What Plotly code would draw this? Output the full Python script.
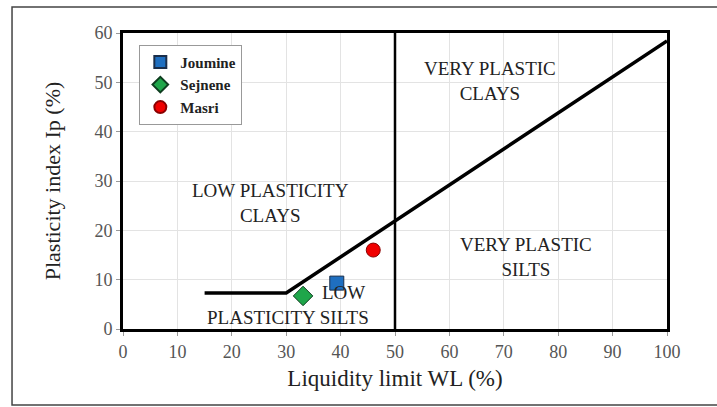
import plotly.graph_objects as go

# Data
series_names = ["Joumine", "Sejnene", "Masri"]
series_wl = [39.3, 33.1, 46.0]
series_ip = [9.3, 6.7, 16.0]
series_symbols = ["square", "diamond", "circle"]
series_colors = ["#1F6FC0", "#1FA64A", "#F00000"]
series_edges = ["#1A2E4A", "#0E3D1F", "#8A0000"]

aline_wl = [15, 30, 100]
aline_ip = [7.3, 7.3, 58.4]
vline_wl = [50, 50]
vline_ip = [0, 60]

x_ticks = [0, 10, 20, 30, 40, 50, 60, 70, 80, 90, 100]
y_ticks = [0, 10, 20, 30, 40, 50, 60]

zone_labels = ["LOW PLASTICITY<br>CLAYS", "VERY PLASTIC<br>CLAYS", "VERY PLASTIC<br>SILTS", "LOW", "PLASTICITY SILTS"]
zone_x = [27.2, 67.5, 74.0, 40.5, 30.3]
zone_y = [25.5, 50.3, 14.6, 7.3, 2.3]

SERIF = "Liberation Serif, Times New Roman, serif"

fig = go.Figure()

fig.add_trace(go.Scatter(x=vline_wl, y=vline_ip, mode="lines",
                         line=dict(color="black", width=2.5),
                         showlegend=False, hoverinfo="skip"))
fig.add_trace(go.Scatter(x=aline_wl, y=aline_ip, mode="lines",
                         line=dict(color="black", width=3.5),
                         showlegend=False, hoverinfo="skip"))

for n, xv, yv, s, c, e in zip(series_names, series_wl, series_ip, series_symbols, series_colors, series_edges):
    fig.add_trace(go.Scatter(x=[xv], y=[yv], mode="markers", name=n,
                             marker=dict(symbol=s, size=14 if s != "diamond" else 15,
                                         color=c, line=dict(color=e, width=1))))

for i, (t, xv, yv) in enumerate(zip(zone_labels, zone_x, zone_y)):
    fig.add_annotation(x=xv, y=yv, xref="x", yref="y", text=t, showarrow=False,
                       font=dict(family=SERIF, size=19, color="#222222"),
                       align="center")

# outer frame: left, top and bottom edges only (right edge is cut off in the reference)
fig.add_shape(type="path", xref="paper", yref="paper",
              path="M 1.1,-0.257 L -0.204,-0.257 L -0.204,1.088 L 1.1,1.088",
              line=dict(color="#444444", width=1.5), fillcolor="rgba(0,0,0,0)", layer="below")

fig.update_layout(
    width=717, height=407,
    margin=dict(l=123, r=50, t=33, b=78),
    paper_bgcolor="white", plot_bgcolor="white",
    font=dict(family=SERIF),
    legend=dict(x=0.03, y=0.96, xanchor="left", yanchor="top",
                bgcolor="white", bordercolor="#999999", borderwidth=1,
                font=dict(family=SERIF, size=15, color="#222222", weight="bold"),
                itemsizing="constant", tracegroupgap=0, itemwidth=30),
    xaxis=dict(range=[0, 100], tickvals=x_ticks, showgrid=True, gridcolor="#E3E3E3",
               showline=True, linecolor="black", linewidth=3, mirror=True,
               ticks="outside", ticklen=4, tickcolor="#999999",
               tickfont=dict(family=SERIF, size=18, color="#555555"),
               title=dict(text="Liquidity limit WL (%)", font=dict(family=SERIF, size=23, color="#222222"), standoff=10),
               zeroline=False, fixedrange=True),
    yaxis=dict(range=[0, 60], tickvals=y_ticks, showgrid=True, gridcolor="#E3E3E3",
               showline=True, linecolor="black", linewidth=3, mirror=True,
               ticks="outside", ticklen=4, tickcolor="#999999",
               tickfont=dict(family=SERIF, size=18, color="#555555"),
               title=dict(text="Plasticity index Ip (%)", font=dict(family=SERIF, size=22, color="#222222"), standoff=28),
               zeroline=False, fixedrange=True),
)

fig.write_html("out.html", config={"displayModeBar": False})

# remove default browser body margin so the figure sits at the page origin
with open("out.html", "r", encoding="utf-8") as f:
    html = f.read()
html = html.replace("<body>", '<body style="margin:0;overflow:hidden">', 1)
with open("out.html", "w", encoding="utf-8") as f:
    f.write(html)
